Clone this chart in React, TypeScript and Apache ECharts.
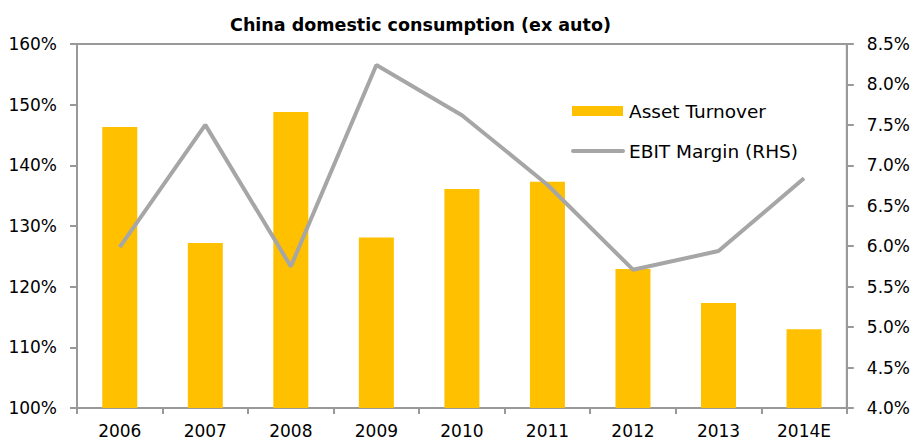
import React, { useEffect, useRef } from "react";
import * as echarts from "echarts";

const categories = ["2006", "2007", "2008", "2009", "2010", "2011", "2012", "2013", "2014E"];
const assetTurnover = [146.3, 127.2, 148.8, 128.1, 136.1, 137.3, 122.9, 117.3, 113.0];
const ebitMargin = [5.99, 7.5, 5.75, 8.24, 7.62, 6.76, 5.71, 5.94, 6.84];
const leftTicks = { min: 100, max: 160, interval: 10 };
const rightTicks = { min: 4, max: 8.5, interval: 0.5 };
const titleText = "China domestic consumption (ex auto)";
const seriesNames = ["Asset Turnover", "EBIT Margin (RHS)"];

const FONT = "DejaVu Sans";
const AXIS = "#999999";
const BAR = "#FFC000";
const LINE = "#A6A6A6";

export default function App() {
  const ref = useRef<HTMLDivElement>(null);
  useEffect(() => {
    if (!ref.current) return;
    const chart = echarts.init(ref.current, null, { renderer: "svg" });
    chart.setOption({
      animation: false,
      backgroundColor: "#ffffff",
      textStyle: { fontFamily: FONT, color: "#000" },
      graphic: [
        {
          type: "text",
          x: 420.5,
          y: 25,
          style: {
            text: titleText,
            fontFamily: FONT,
            fontWeight: "bold",
            fontSize: 17.5,
            fill: "#000",
            textAlign: "center",
            textVerticalAlign: "middle",
          },
        },
        {
          type: "rect",
          shape: { x: 572, y: 106, width: 51, height: 10 },
          style: { fill: BAR },
        },
        {
          type: "text",
          x: 629,
          y: 111,
          style: {
            text: seriesNames[0],
            fontFamily: FONT,
            fontSize: 18.5,
            fill: "#000",
            textAlign: "left",
            textVerticalAlign: "middle",
          },
        },
        {
          type: "line",
          shape: { x1: 573, y1: 151, x2: 623, y2: 151 },
          style: { stroke: LINE, lineWidth: 4, lineCap: "round" },
        },
        {
          type: "text",
          x: 629,
          y: 151,
          style: {
            text: seriesNames[1],
            fontFamily: FONT,
            fontSize: 18.5,
            fill: "#000",
            textAlign: "left",
            textVerticalAlign: "middle",
          },
        },
      ],
      grid: {
        left: 77,
        right: 65,
        top: 44,
        bottom: 35,
        show: true,
        borderColor: AXIS,
        borderWidth: 2,
        backgroundColor: "transparent",
      },
      xAxis: {
        type: "category",
        data: categories,
        axisLine: { lineStyle: { color: AXIS, width: 2 } },
        axisTick: { show: true, length: 6, lineStyle: { color: AXIS, width: 2 } },
        axisLabel: { fontFamily: FONT, fontSize: 17, color: "#000", margin: 14 },
      },
      yAxis: [
        {
          type: "value",
          min: leftTicks.min,
          max: leftTicks.max,
          interval: leftTicks.interval,
          position: "left",
          axisLine: { show: true, lineStyle: { color: AXIS, width: 2 } },
          axisTick: { show: true, length: 7, lineStyle: { color: AXIS, width: 2 } },
          splitLine: { show: false },
          axisLabel: {
            fontFamily: FONT,
            fontSize: 17,
            color: "#000",
            margin: 20,
            formatter: (v: number) => `${v}%`,
          },
        },
        {
          type: "value",
          min: rightTicks.min,
          max: rightTicks.max,
          interval: rightTicks.interval,
          position: "right",
          axisLine: { show: true, lineStyle: { color: AXIS, width: 2 } },
          axisTick: { show: true, length: 7, lineStyle: { color: AXIS, width: 2 } },
          splitLine: { show: false },
          axisLabel: {
            fontFamily: FONT,
            fontSize: 17,
            color: "#000",
            margin: 20,
            formatter: (v: number) => `${v.toFixed(1)}%`,
          },
        },
      ],
      series: [
        {
          name: seriesNames[0],
          type: "bar",
          data: assetTurnover,
          barWidth: 35,
          itemStyle: { color: BAR },
          yAxisIndex: 0,
        },
        {
          name: seriesNames[1],
          type: "line",
          data: ebitMargin,
          yAxisIndex: 1,
          symbol: "none",
          lineStyle: { color: LINE, width: 4 },
          itemStyle: { color: LINE },
        },
      ],
    });
    return () => chart.dispose();
  }, []);
  return <div ref={ref} style={{ width: 913, height: 443, position: "absolute", left: 0, top: 0 }} />;
}
